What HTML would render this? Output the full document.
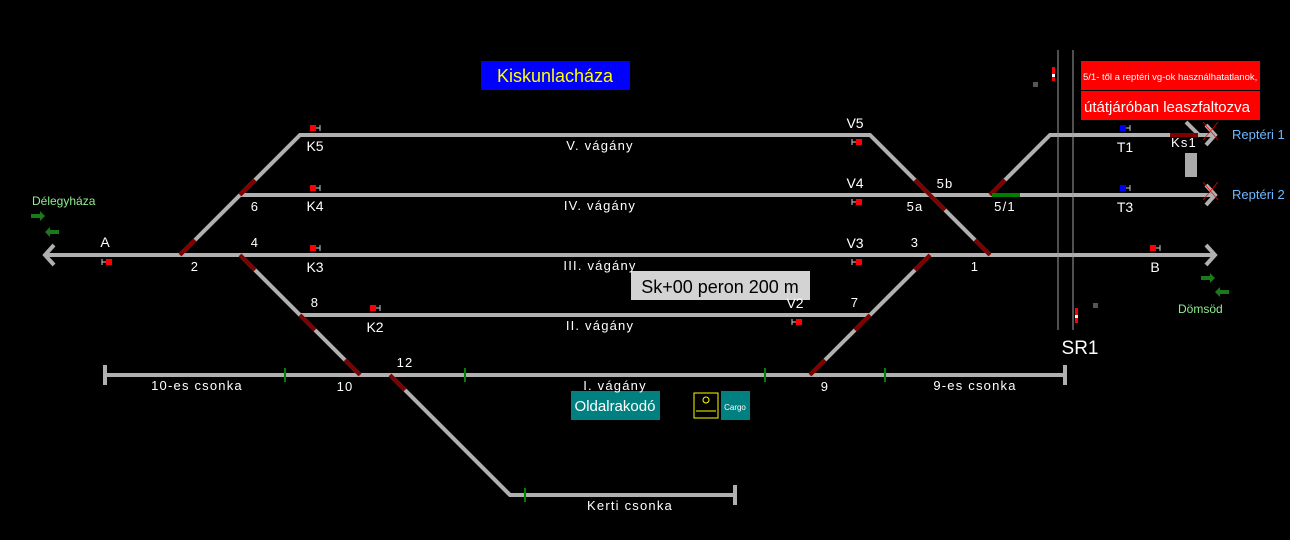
<!DOCTYPE html>
<html><head><meta charset="utf-8"><style>
html,body{margin:0;padding:0;background:#000;width:1290px;height:540px;overflow:hidden}
svg{display:block}
text{font-family:"Liberation Sans",sans-serif}
.m{font-family:"DejaVu Sans","Liberation Sans",sans-serif;font-size:13px;fill:#fff;letter-spacing:1.2px}
.w{font-size:14px;fill:#fff}
.g{stroke:#b0b0b0;stroke-width:4;fill:none}
.r{stroke:#800000;stroke-width:4}
</style></head><body>
<svg width="1290" height="540" viewBox="0 0 1290 540">
<g class="g">
<line x1="45" y1="255" x2="1215" y2="255"/>
<polyline points="54,245 45,255 54,265"/>
<polyline points="1206,245 1215,255 1206,265"/>
<polyline points="180,255 300,135 870,135 990,255"/>
<line x1="240" y1="195" x2="1215" y2="195"/>
<polyline points="990,195 1050,135 1215,135"/>
<polyline points="1206,125 1215,135 1206,145"/>
<polyline points="1206,185 1215,195 1206,205"/>
<line x1="1186" y1="122" x2="1200" y2="136"/>
<polyline points="240,255 300,315 870,315 930,255"/>
<line x1="300" y1="315" x2="360" y2="375"/>
<line x1="105" y1="375" x2="1065" y2="375"/>
<line x1="105" y1="365" x2="105" y2="385"/>
<line x1="1065" y1="365" x2="1065" y2="385"/>
<line x1="870" y1="315" x2="810" y2="375"/>
<polyline points="390,375 510,495 735,495"/>
<line x1="735" y1="485" x2="735" y2="505"/>
</g>
<g class="r">
<line x1="180" y1="255" x2="195" y2="240"/>
<line x1="240" y1="195" x2="255" y2="180"/>
<line x1="240" y1="255" x2="255" y2="270"/>
<line x1="300" y1="315" x2="315" y2="330"/>
<line x1="345" y1="360" x2="360" y2="375"/>
<line x1="390" y1="375" x2="405" y2="390"/>
<line x1="915" y1="180" x2="930" y2="195"/>
<line x1="930" y1="195" x2="945" y2="210"/>
<line x1="975" y1="240" x2="990" y2="255"/>
<line x1="990" y1="195" x2="1005" y2="180"/>
<line x1="930" y1="255" x2="915" y2="270"/>
<line x1="870" y1="315" x2="855" y2="330"/>
<line x1="810" y1="375" x2="825" y2="360"/>
<line x1="1170" y1="135" x2="1198" y2="135"/>
</g>
<line x1="992" y1="195" x2="1020" y2="195" stroke="#008000" stroke-width="4"/>
<g stroke="#008000" stroke-width="2">
<line x1="285" y1="368" x2="285" y2="382"/><line x1="465" y1="368" x2="465" y2="382"/>
<line x1="765" y1="368" x2="765" y2="382"/><line x1="885" y1="368" x2="885" y2="382"/>
<line x1="525" y1="488" x2="525" y2="502"/>
</g>
<g stroke="#ff0000" stroke-width="0.7">
<line x1="1203" y1="122" x2="1218" y2="140"/><line x1="1218" y1="122" x2="1203" y2="140"/>
<line x1="1203" y1="182" x2="1218" y2="200"/><line x1="1218" y1="182" x2="1203" y2="200"/>
</g>
<rect x="1185" y="153" width="12" height="24" fill="#aaa"/>
<line x1="1058" y1="50" x2="1058" y2="330" stroke="#a0a0a0" stroke-width="1"/>
<line x1="1073" y1="50" x2="1073" y2="330" stroke="#a0a0a0" stroke-width="1"/>
<rect x="1052" y="67" width="3" height="14" fill="#f00"/><rect x="1052" y="74" width="3" height="3" fill="#fff"/>
<rect x="1075" y="308" width="3" height="15" fill="#f00"/><rect x="1075" y="315" width="3" height="3" fill="#fff"/>
<rect x="1033" y="82" width="5" height="5" fill="#555"/><rect x="1093" y="303" width="5" height="5" fill="#555"/>
<g fill="#f00" stroke="#ccc" stroke-width="1">
<rect x="310" y="125" width="6" height="6" stroke="none"/><path d="M316 128h4M320 125v6"/>
<rect x="310" y="185" width="6" height="6" stroke="none"/><path d="M316 188h4M320 185v6"/>
<rect x="310" y="245" width="6" height="6" stroke="none"/><path d="M316 248h4M320 245v6"/>
<rect x="370" y="305" width="6" height="6" stroke="none"/><path d="M376 308h4M380 305v6"/>
<rect x="1150" y="245" width="6" height="6" stroke="none"/><path d="M1156 248h4M1160 245v6"/>
<rect x="106" y="259" width="6" height="6" stroke="none"/><path d="M106 262h-4M102 259v6"/>
<rect x="856" y="139" width="6" height="6" stroke="none"/><path d="M856 142h-4M852 139v6"/>
<rect x="856" y="199" width="6" height="6" stroke="none"/><path d="M856 202h-4M852 199v6"/>
<rect x="856" y="259" width="6" height="6" stroke="none"/><path d="M856 262h-4M852 259v6"/>
<rect x="796" y="319" width="6" height="6" stroke="none"/><path d="M796 322h-4M792 319v6"/>
</g>
<g fill="#00f" stroke="#ccc" stroke-width="1">
<rect x="1120" y="125" width="6" height="6" stroke="none"/><path d="M1126 128h4M1130 125v6"/>
<rect x="1120" y="185" width="6" height="6" stroke="none"/><path d="M1126 188h4M1130 185v6"/>
</g>
<g fill="#1a7a1a">
<path d="M31 214h9v-3l5 5l-5 5v-3h-9z"/><path d="M59 230h-9v-3l-5 5l5 5v-3h9z"/>
<path d="M1201 276h9v-3l5 5l-5 5v-3h-9z"/><path d="M1229 290h-9v-3l-5 5l5 5v-3h9z"/>
</g>
<rect x="481" y="61" width="149" height="29" fill="#0000ff"/>
<text x="555" y="82" font-size="18" fill="#ffff00" text-anchor="middle">Kiskunlacháza</text>
<rect x="1081" y="61" width="179" height="29" fill="#ff0000"/>
<text x="1083" y="80" font-size="9.5" fill="#fff">5/1- től a reptéri vg-ok használhatatlanok,</text>
<rect x="1081" y="91" width="179" height="29" fill="#ff0000"/>
<text x="1084" y="112" font-size="15" fill="#fff">útátjáróban leaszfaltozva</text>
<rect x="631" y="271" width="179" height="29" fill="#d3d3d3"/>
<text x="720" y="293" font-size="18" fill="#000" text-anchor="middle">Sk+00 peron 200 m</text>
<rect x="571" y="391" width="89" height="29" fill="#008080"/>
<text x="615" y="411" font-size="15" fill="#fff" text-anchor="middle">Oldalrakodó</text>
<rect x="694" y="393" width="24" height="25" fill="none" stroke="#ff0" stroke-width="1"/>
<circle cx="706" cy="400" r="3" fill="none" stroke="#ff0"/><line x1="696" y1="411" x2="716" y2="411" stroke="#ff0"/>
<rect x="721" y="391" width="29" height="29" fill="#008080"/>
<text x="735" y="410" font-size="8" fill="#fff" text-anchor="middle">Cargo</text>
<g class="w" text-anchor="middle">
<text x="105" y="247">A</text><text x="1155" y="272">B</text>
<text x="315" y="151">K5</text><text x="315" y="211">K4</text><text x="315" y="272">K3</text><text x="375" y="332">K2</text>
<text x="855" y="128">V5</text><text x="855" y="188">V4</text><text x="855" y="248">V3</text><text x="795" y="308">V2</text>
<text x="1125" y="152">T1</text><text x="1125" y="212">T3</text>
<text x="1080" y="354" font-size="19">SR1</text>
</g>
<g class="m" text-anchor="middle">
<text x="195" y="271">2</text><text x="255" y="211">6</text><text x="255" y="247">4</text><text x="315" y="307">8</text>
<text x="345" y="391">10</text><text x="405" y="367">12</text><text x="825" y="391">9</text><text x="855" y="307">7</text>
<text x="915" y="247">3</text><text x="975" y="271">1</text><text x="915" y="211">5a</text><text x="945" y="188">5b</text>
<text x="1005" y="211">5/1</text><text x="1184" y="147">Ks1</text>
<text x="600" y="150">V. vágány</text><text x="600" y="210">IV. vágány</text><text x="600" y="270">III. vágány</text>
<text x="600" y="330">II. vágány</text><text x="615" y="390">I. vágány</text>
<text x="197" y="390">10-es csonka</text><text x="975" y="390">9-es csonka</text><text x="630" y="510">Kerti csonka</text>
</g>
<text x="32" y="205" font-size="12" fill="#90ee90">Délegyháza</text>
<text x="1178" y="313" font-size="12" fill="#90ee90">Dömsöd</text>
<text x="1232" y="139" font-size="13" fill="#6fb9ff">Reptéri 1</text>
<text x="1232" y="199" font-size="13" fill="#6fb9ff">Reptéri 2</text>
</svg>
</body></html>
